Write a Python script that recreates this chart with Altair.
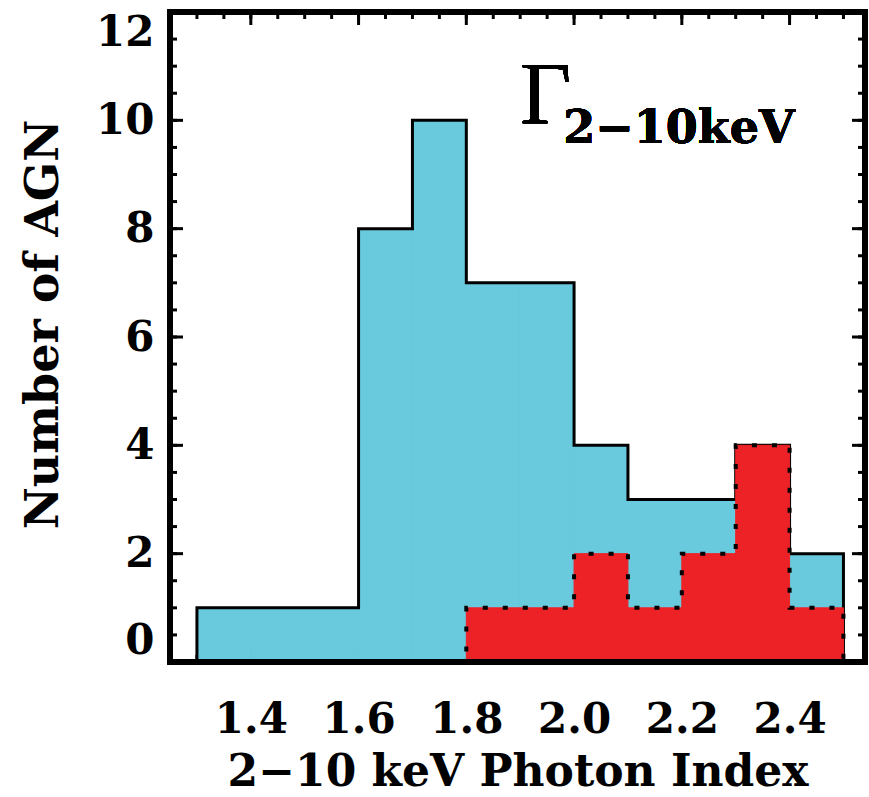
import altair as alt
import numpy as np
import pandas as pd

# Histogram of the 2-10 keV photon index: full sample (blue) and a subset (red)
bin_lo = [1.3, 1.4, 1.5, 1.6, 1.7, 1.8, 1.9, 2.0, 2.1, 2.2, 2.3, 2.4]
bin_hi = [1.4, 1.5, 1.6, 1.7, 1.8, 1.9, 2.0, 2.1, 2.2, 2.3, 2.4, 2.5]
all_counts = [1, 1, 1, 8, 10, 7, 7, 4, 3, 3, 4, 2]
sub_counts = [0, 0, 0, 0, 0, 1, 1, 2, 1, 2, 4, 1]

x_tick_labels = [1.4, 1.6, 1.8, 2.0, 2.2, 2.4]
y_tick_labels = [0, 2, 4, 6, 8, 10, 12]

x_title = "2\u221210 keV Photon Index"
y_title = "Number of AGN"
gamma_symbol = "\u0393"
gamma_sub = "2\u221210keV"

X_DOMAIN = [1.25, 2.54]
Y_DOMAIN = [0, 12]
W, H = 695, 650
BLUE = "#69C9DD"
RED = "#EC2227"
FONT = "DejaVu Serif"

bars = pd.DataFrame({"lo": bin_lo, "hi": bin_hi, "all": all_counts,
                     "sub": sub_counts, "zero": [0] * len(bin_lo)})


def outline(counts):
    # step outline: rise at the first edge, hold each count over its bin, drop at the end
    xs_ = [bin_lo[0]] + bin_lo + [bin_hi[-1]]
    ys_ = [0] + list(counts) + [0]
    return pd.DataFrame({"lo": xs_, "all": ys_, "order": range(len(xs_))})


xs = alt.Scale(domain=X_DOMAIN, nice=False, zero=False)
ys = alt.Scale(domain=Y_DOMAIN, nice=False)

x_axis = alt.Axis(values=x_tick_labels, format=".1f", ticks=False, tickSize=0,
                  domain=False, grid=False, labelFont=FONT, labelFontWeight="bold",
                  labelFontSize=42, labelColor="black", labelBaseline="alphabetic",
                  labelPadding=70, labelFlush=False,
                  title=x_title, titleFont=FONT, titleFontWeight="bold",
                  titleFontSize=44, titleColor="black", titleBaseline="alphabetic",
                  titleY=123)
y_axis = alt.Axis(values=y_tick_labels, format="d", ticks=False, tickSize=0,
                  domain=False, grid=False, labelFont=FONT, labelFontWeight="bold",
                  labelFontSize=42, labelColor="black", labelPadding=16,
                  labelFlush=True,
                  title=y_title, titleFont=FONT, titleFontWeight="bold",
                  titleFontSize=46, titleColor="black", titleBaseline="alphabetic",
                  titleAngle=270, titleX=-113, titleY=312, titleAlign="center")


def X(field):
    return alt.X(field, scale=xs, axis=x_axis)


def Y(field):
    return alt.Y(field, scale=ys, axis=y_axis)


# tick marks drawn inward on all four sides
x_major = pd.DataFrame({"t": x_tick_labels})
x_minor = pd.DataFrame({"t": [round(v, 2) for v in np.arange(1.30, 2.54, 0.05)]})
y_major = pd.DataFrame({"t": y_tick_labels})
y_minor = pd.DataFrame({"t": [v for v in np.arange(0.5, 12, 0.5)]})


def xticks(df, size):
    base = alt.Chart(df).mark_rule(color="black", strokeWidth=3)
    bottom = base.encode(x=X("t:Q"), y=alt.value(H - size), y2=alt.value(H))
    top = base.encode(x=X("t:Q"), y=alt.value(0), y2=alt.value(size))
    return [bottom, top]


def yticks(df, size):
    base = alt.Chart(df).mark_rule(color="black", strokeWidth=3)
    left = base.encode(y=Y("t:Q"), x=alt.value(0), x2=alt.value(size))
    right = base.encode(y=Y("t:Q"), x=alt.value(W - size), x2=alt.value(W))
    return [left, right]


ticks = xticks(x_major, 13) + xticks(x_minor, 7) + yticks(y_major, 13) + yticks(y_minor, 7)

blue_fill = alt.Chart(bars).mark_rect(fill=BLUE, stroke=BLUE, strokeWidth=1).encode(
    x=X("lo:Q"), x2="hi:Q", y=Y("zero:Q"), y2="all:Q")

blue_line = alt.Chart(outline(all_counts)).mark_line(
    color="black", strokeWidth=3, interpolate="step-after").encode(
    x=X("lo:Q"), y=Y("all:Q"), order="order:Q")

red_fill = alt.Chart(bars).mark_rect(fill=RED, stroke=RED, strokeWidth=1).encode(
    x=X("lo:Q"), x2="hi:Q", y=Y("zero:Q"), y2="sub:Q")

red_line = alt.Chart(outline(sub_counts)).mark_line(
    color="black", strokeWidth=4, strokeDash=[5, 15], interpolate="step-after").encode(
    x=X("lo:Q"), y=Y("all:Q"), order="order:Q")

frame = alt.Chart(bars).mark_rect(fill=None, stroke="black", strokeWidth=5).encode(
    x=alt.value(0), x2=alt.value(W), y=alt.value(0), y2=alt.value(H))

gamma = alt.Chart(bars).mark_text(
    text=gamma_symbol, font="Liberation Serif", fontSize=88, align="left",
    baseline="alphabetic", color="black").encode(
    x=alt.datum(1.90, scale=xs, axis=x_axis), y=alt.datum(9.95, scale=ys, axis=y_axis))

gamma_s = alt.Chart(bars).mark_text(
    text=gamma_sub, font=FONT, fontWeight="bold", fontSize=46, align="left",
    baseline="alphabetic", color="black").encode(
    x=alt.datum(1.98, scale=xs, axis=x_axis), y=alt.datum(9.58, scale=ys, axis=y_axis))

chart = alt.layer(
    *ticks, blue_fill, blue_line, red_fill, red_line, frame, gamma, gamma_s
).properties(
    width=W, height=H,
    autosize=alt.AutoSizeParams(type="none"),
    padding={"left": 170, "top": 12, "right": 4, "bottom": 135},
    background="white",
).configure_view(stroke=None)

chart.save("out.html", embed_options={"renderer": "svg", "actions": False})
